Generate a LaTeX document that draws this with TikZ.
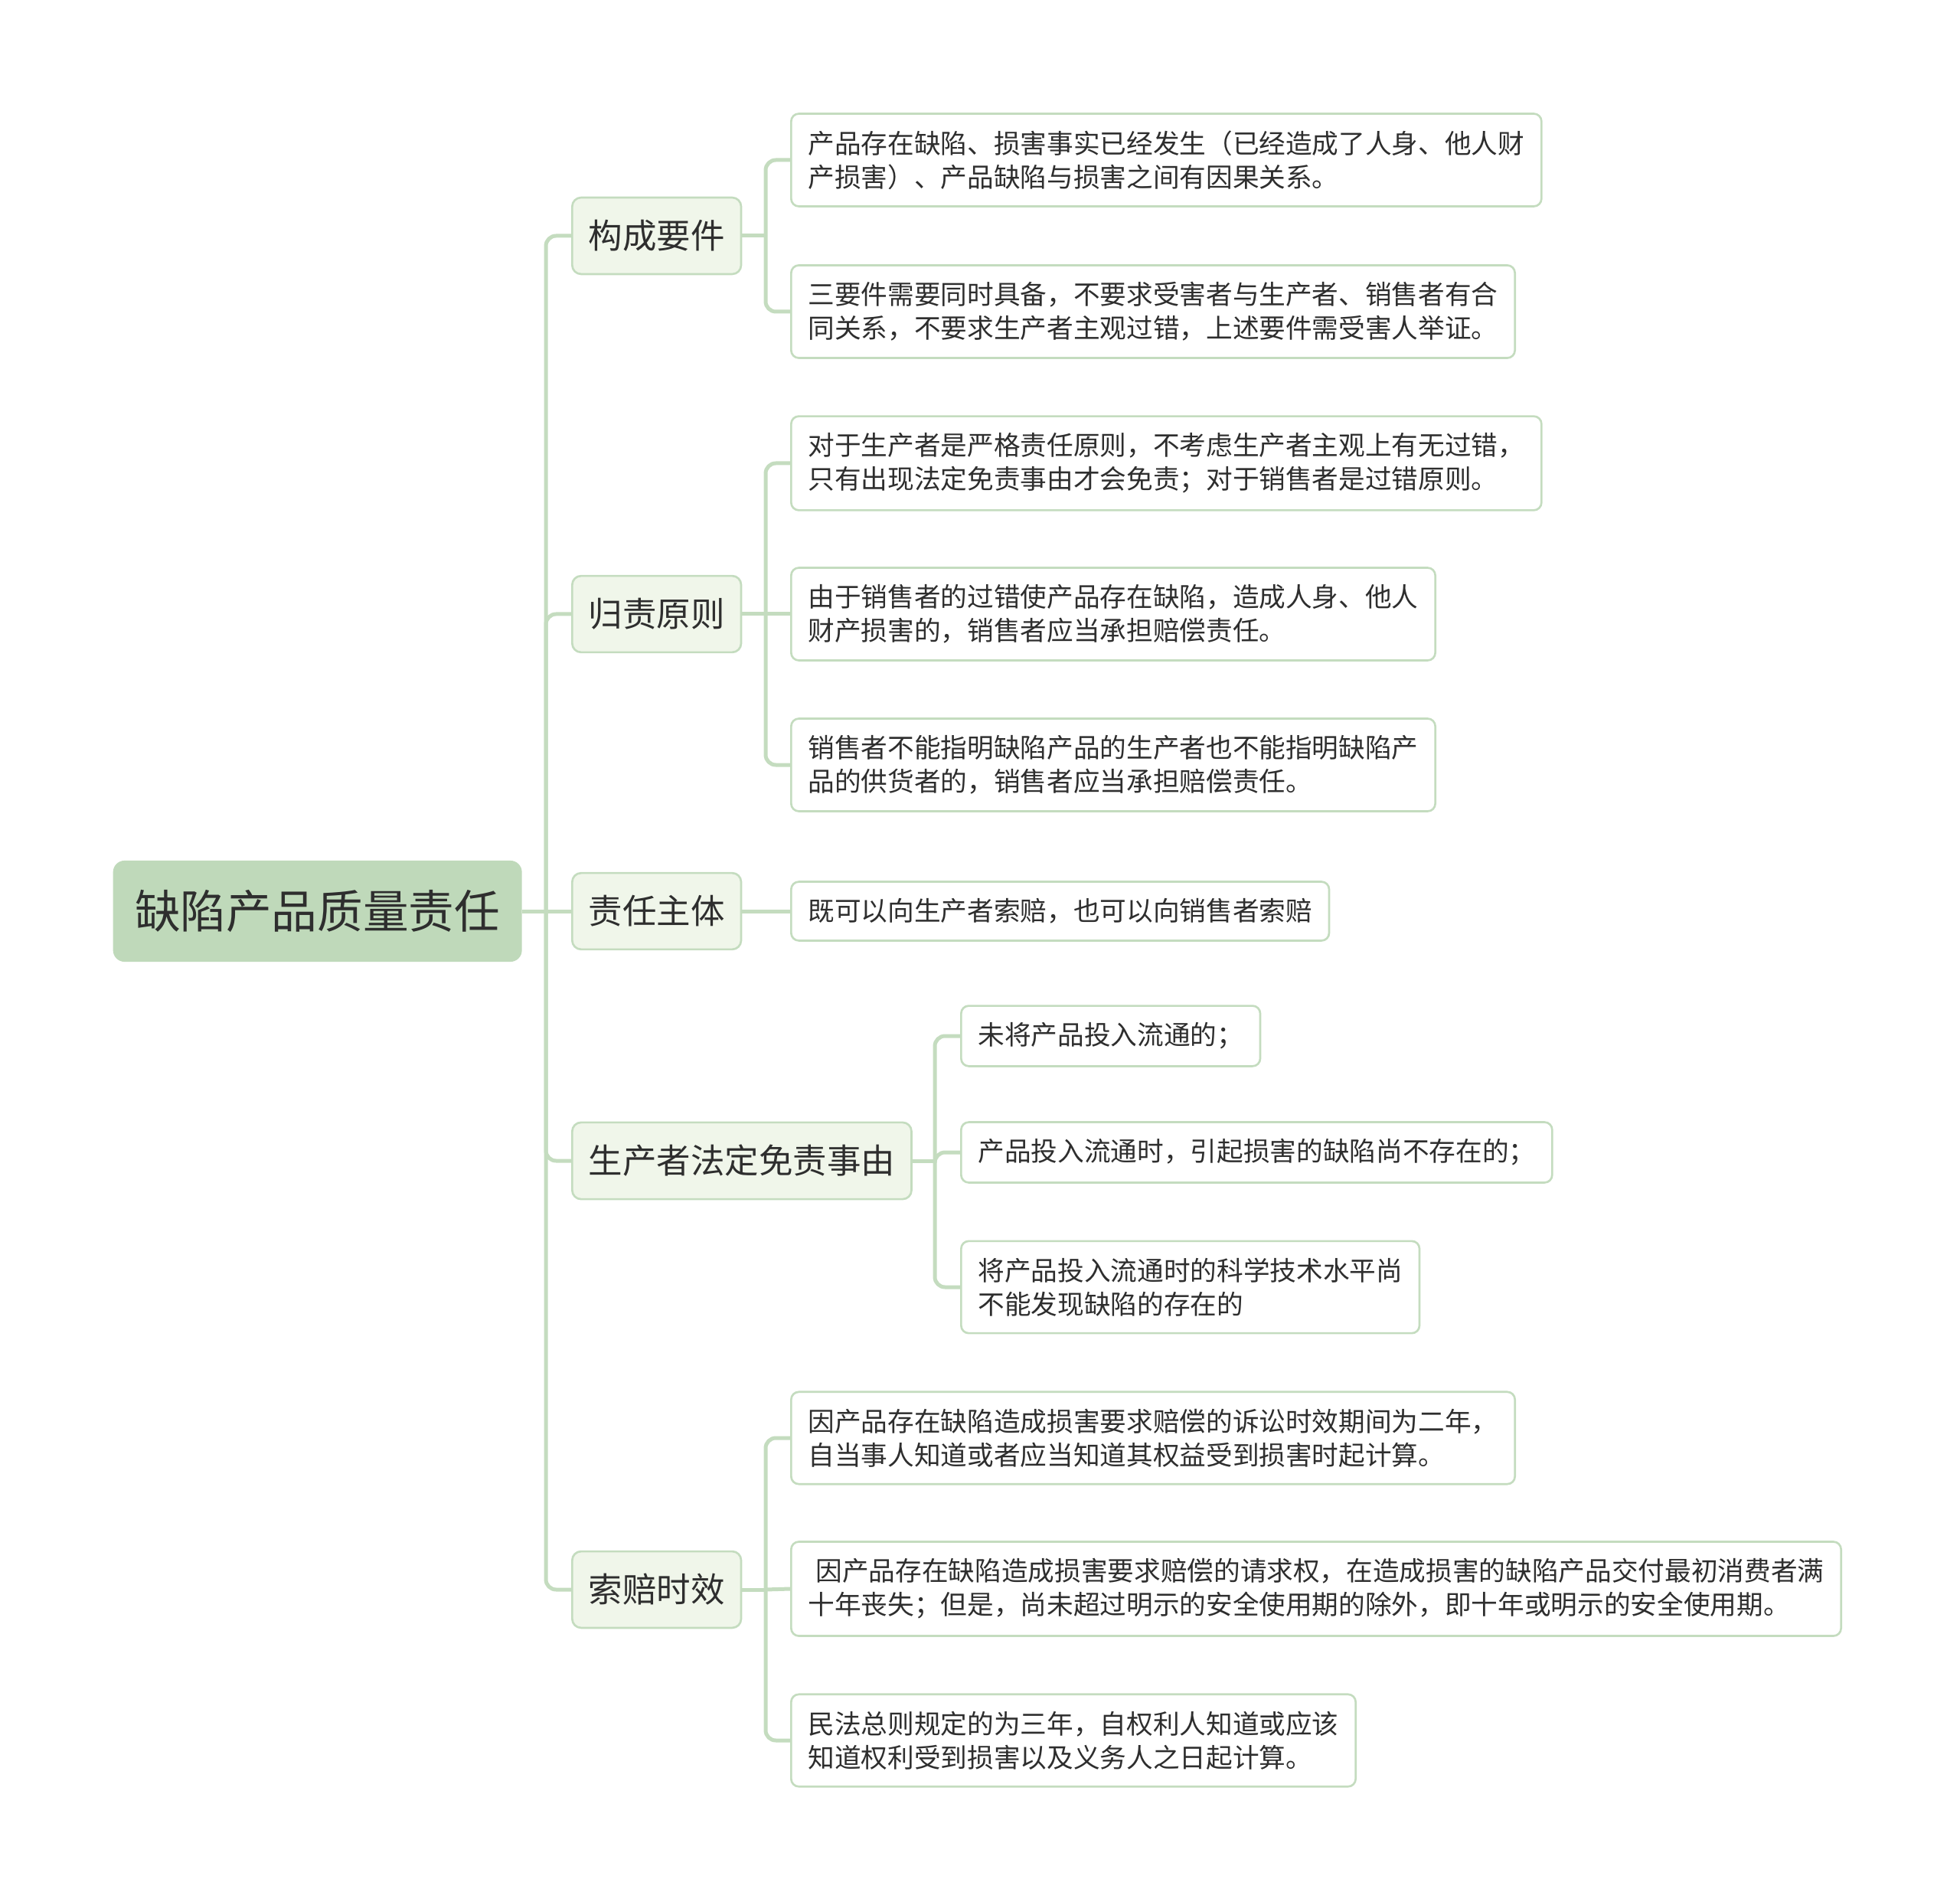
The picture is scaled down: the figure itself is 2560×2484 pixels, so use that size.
\documentclass[tikz,border=0pt]{standalone}
\usepackage{fontspec}
\newfontfamily\cjk{Noto Sans CJK SC}
\definecolor{linegreen}{HTML}{C4DCBF}
\definecolor{rootgreen}{HTML}{BFD9BA}
\definecolor{topicgreen}{HTML}{F0F6EA}
\definecolor{inkgray}{HTML}{2E2E2E}

\begin{document}
\begin{tikzpicture}[x=0.3pt,y=-0.3pt,
    rootbox/.style={fill=rootgreen,rounded corners=4.5pt,inner xsep=8.5pt,inner ysep=11.5pt,
      font=\cjk\fontsize{17.9pt}{21pt}\selectfont,text=inkgray,anchor=west},
    topic/.style={draw=linegreen,line width=0.8pt,fill=topicgreen,rounded corners=3.5pt,
      inner xsep=6.4pt,inner ysep=8.8pt,font=\cjk\fontsize{13.35pt}{16pt}\selectfont,
      text=inkgray,anchor=west},
    leaf/.style={draw=linegreen,line width=0.8pt,fill=white,rounded corners=3pt,
      inner xsep=6.6pt,inner ysep=6.6pt,align=left,
      font=\cjk\fontsize{10.4pt}{13.2pt}\selectfont,text=inkgray,anchor=west},
    link/.style={draw=linegreen,line width=1.5pt,rounded corners=4pt}]
  \useasboundingbox (0,0) rectangle (2560,2484);

  % root and main topics
  \node[rootbox] (root) at (147,1190) {缺陷产品质量责任};
  \node[topic] (gc) at (746,308) {构成要件};
  \node[topic] (gz) at (746,802) {归责原则};
  \node[topic] (zr) at (746,1190) {责任主体};
  \node[topic] (mz) at (746,1516) {生产者法定免责事由};
  \node[topic] (sp) at (746,2076) {索赔时效};

  % leaves
  \node[leaf] (a1) at (1032,209) {产品存在缺陷、损害事实已经发生（已经造成了人身、他人财\\产损害）、产品缺陷与损害之间有因果关系。};
  \node[leaf] (a2) at (1032,407) {三要件需要同时具备，不要求受害者与生产者、销售者有合\\同关系，不要求生产者主观过错，上述要件需受害人举证。};
  \node[leaf] (b1) at (1032,605) {对于生产者是严格责任原则，不考虑生产者主观上有无过错，\\只有出现法定免责事由才会免责；对于销售者是过错原则。};
  \node[leaf] (b2) at (1032,802) {由于销售者的过错使产品存在缺陷，造成人身、他人\\财产损害的，销售者应当承担赔偿责任。};
  \node[leaf] (b3) at (1032,999) {销售者不能指明缺陷产品的生产者也不能指明缺陷产\\品的供货者的，销售者应当承担赔偿责任。};
  \node[leaf] (c1) at (1032,1190) {既可以向生产者索赔，也可以向销售者索赔};
  \node[leaf] (d1) at (1254,1353) {未将产品投入流通的；};
  \node[leaf] (d2) at (1254,1505) {产品投入流通时，引起损害的缺陷尚不存在的；};
  \node[leaf] (d3) at (1254,1681) {将产品投入流通时的科学技术水平尚\\不能发现缺陷的存在的};
  \node[leaf] (e1) at (1032,1878) {因产品存在缺陷造成损害要求赔偿的诉讼时效期间为二年，\\自当事人知道或者应当知道其权益受到损害时起计算。};
  \node[leaf] (e2) at (1032,2075) {\hspace{3pt}因产品存在缺陷造成损害要求赔偿的请求权，在造成损害的缺陷产品交付最初消费者满\\十年丧失；但是，尚未超过明示的安全使用期的除外，即十年或明示的安全使用期。};
  \node[leaf] (e3) at (1032,2273) {民法总则规定的为三年，自权利人知道或应该\\知道权利受到损害以及义务人之日起计算。};

  % connectors
  \coordinate (trunk) at (713,1190);
  \draw[link] (root.east) -- (trunk);
  \foreach \t in {gc,gz,mz,sp}
    \draw[link] (trunk) |- (\t.west);
  \draw[link] (trunk) -- (zr.west);

  \coordinate (gcj) at (1000,308);
  \draw[link] (gc.east) -- (gcj);
  \foreach \l in {a1,a2}
    \draw[link] (gcj) |- (\l.west);

  \coordinate (gzj) at (1000,802);
  \draw[link] (gz.east) -- (gzj);
  \foreach \l in {b1,b3}
    \draw[link] (gzj) |- (\l.west);
  \draw[link] (gzj) -- (b2.west);

  \draw[link] (zr.east) -- (c1.west);

  \coordinate (mzj) at (1221,1516);
  \draw[link] (mz.east) -- (mzj);
  \foreach \l in {d1,d2,d3}
    \draw[link] (mzj) |- (\l.west);

  \coordinate (spj) at (1000,2076);
  \draw[link] (sp.east) -- (spj);
  \foreach \l in {e1,e3}
    \draw[link] (spj) |- (\l.west);
  \draw[link] (spj) -- (e2.west);
\end{tikzpicture}
\end{document}
